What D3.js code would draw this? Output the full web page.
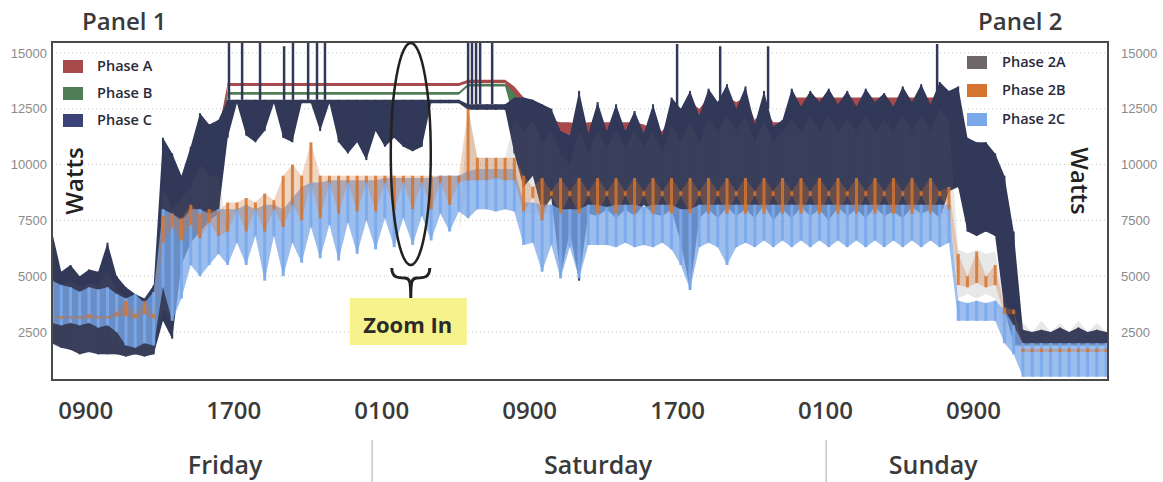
<!DOCTYPE html>
<html>
<head>
<meta charset="utf-8">
<script src="https://cdn.jsdelivr.net/npm/d3@7"></script>
<style>
  body { margin: 0; background: #fff; }
  text { font-family: "Open Sans", sans-serif; }
</style>
</head>
<body>
<div id="chart"></div>
<script>
// readings every half hour, starting 07:12 Friday (hours counted from Friday 00:00)
const hours = d3.range(115).map(i => 7.2 + i * 0.5);

// Panel 1
const phaseAHi = [
  4500,4500,4500,4300,4500,4500,4500,4200,4000,3800,
  3700,4000,9000,9000,9000,10000,11000,11000,11500,13650,
  13650,13650,13650,13650,13650,13650,13650,13650,13650,13650,
  13650,13650,13650,13650,13650,13650,13650,13650,13650,13650,
  13650,13650,13650,13650,13650,13800,13800,13800,13800,13800,
  13500,13000,12800,12500,12000,11900,11900,11800,11900,11900,
  11900,11900,11900,11900,11800,11600,11500,12200,12500,12800,
  12500,13000,12800,13000,12800,13000,12000,12500,11900,11900,
  13000,13000,13000,13000,13000,13000,13000,13000,13000,13000,
  13000,13000,13000,13000,13000,13000,13000,13200,13200,10500,
  10000,10000,9500,8500,2300,2300,2300,2300,2300,2300,
  2300,2300,2300,2300,2300];
const phaseALo = [
  2000,2000,2000,2000,2000,2000,2000,2000,2000,2000,
  2000,2000,5000,5000,6000,7000,7000,7500,8000,13520,
  13520,13520,13520,13520,13520,13520,13520,13520,13520,13520,
  13520,13520,13520,13520,13520,13520,13520,13520,13520,13520,
  13520,13520,13520,13520,13520,13650,13650,13650,13650,13650,
  12000,11000,11000,10000,10000,9000,9000,9000,9000,9000,
  9000,9000,9000,9000,9000,9000,9000,9000,9000,9000,
  9000,9000,9000,9000,9000,9000,9000,9000,9000,9000,
  9000,9000,9000,9000,9000,9000,9000,9000,9000,9000,
  9000,9000,9000,9000,9000,9000,9000,9000,9000,8000,
  8000,8000,7800,7800,1900,1900,1900,1900,1900,1900,
  1900,1900,1900,1900,1900];

const phaseBHi = [
  4200,4200,4200,4000,4200,4200,4200,4000,3800,3600,
  3500,3800,8800,8800,8800,9800,10800,10800,11300,13250,
  13250,13250,13250,13250,13250,13250,13250,13250,13250,13250,
  13250,13250,13250,13250,13250,13250,13250,13250,13250,13250,
  13250,13250,13250,13250,13250,13620,13620,13620,13620,13620,
  13200,12700,12500,12200,11700,11000,11000,11000,11000,11000,
  11000,11000,11000,11000,11000,11000,11000,12000,12000,12000,
  12000,12000,12000,12000,12000,12000,11200,11200,11200,11200,
  12000,12000,12000,12000,12000,12000,12000,12000,12000,12000,
  12000,12000,12000,12000,12000,12000,12000,12000,12000,10000,
  9500,9500,9000,8000,2200,2200,2200,2200,2200,2200,
  2200,2200,2200,2200,2200];
const phaseBLo = [
  2000,2000,2000,2000,2000,2000,2000,2000,2000,2000,
  2000,2000,5000,5000,6000,7000,7000,7500,8000,13130,
  13130,13130,13130,13130,13130,13130,13130,13130,13130,13130,
  13130,13130,13130,13130,13130,13130,13130,13130,13130,13130,
  13130,13130,13130,13130,13130,13500,13500,13500,13500,13500,
  12000,11000,11000,10000,10000,9000,9000,9000,9000,9000,
  9000,9000,9000,9000,9000,9000,9000,9000,9000,9000,
  9000,9000,9000,9000,9000,9000,9000,9000,9000,9000,
  9000,9000,9000,9000,9000,9000,9000,9000,9000,9000,
  9000,9000,9000,9000,9000,9000,9000,9000,9000,7800,
  7800,7800,7800,7800,1900,1900,1900,1900,1900,1900,
  1900,1900,1900,1900,1900];

const phaseCHi = [
  7000,5200,5500,5000,5300,5200,6500,5000,4500,4200,
  4000,4600,11200,10500,9500,10800,12300,11800,12000,12900,
  12900,12900,12900,12900,12900,12900,12900,12900,12900,12900,
  12900,12900,12900,12900,12900,12900,12900,12900,12900,12900,
  12900,12900,12900,12900,12900,12700,12700,12700,12700,12700,
  13000,13000,12900,12700,12500,11500,11300,13300,11400,12800,
  11500,12700,11500,12400,11400,12700,11300,13000,12500,13300,
  12200,13400,12800,13600,12500,13500,11800,13300,11700,12000,
  13400,12600,13300,12800,13400,12700,13300,12600,13400,12800,
  13200,12600,13500,12800,13600,12700,13700,13300,13500,11200,
  11000,11000,10500,9500,7000,2600,2500,2600,2500,2700,
  2500,2700,2500,2600,2500];
const phaseCLo = [
  2000,1800,1700,1500,1600,1500,1500,1500,1400,1500,
  1400,1500,3000,2200,5500,6500,7000,7500,7800,11200,
  12750,11300,11000,11500,12750,11200,11000,12750,12750,11500,
  12750,11000,10500,11000,10200,11500,10800,11200,10800,10600,
  10800,12750,12750,12750,12750,12450,12450,12450,12450,12450,
  10500,9000,9500,7900,8500,5000,7000,4800,7800,7700,
  8000,7600,8000,7700,8200,7800,7700,8000,6500,4400,
  7600,8000,7600,8100,7700,8000,7600,8200,7500,8000,
  7600,8100,7700,8000,7500,8100,7700,8000,7600,8100,
  7700,7900,7600,8100,7800,8000,7600,8800,9000,7000,
  6800,7000,6800,3500,2000,1900,2000,1900,2000,1900,
  2000,1900,2000,1900,2000];

// Phase C short spikes that hit the top of the frame
const spikeHours = [16.77, 17.48, 18.45, 19.75, 20.23, 21.05, 21.53, 21.96, 29.7, 29.91, 30.13, 30.35, 31.0, 41.0, 43.33, 45.92, 55.06];
const spikeTops  = [15450, 15450, 15450, 15300, 15450, 15450, 15450, 15450, 15450, 15450, 15450, 15450, 15450, 15400, 15300, 15300, 15400];
const spikeLows  = [12900, 12900, 12900, 12900, 12900, 12900, 12900, 12900, 12700, 12700, 12700, 12700, 12700, 12500, 12500, 12500, 12800];

// Panel 2
const phase2AHi = [
  4800,4600,4800,4500,4700,4600,5200,4400,4000,3800,
  3600,4000,9000,8000,8500,9000,10000,9500,9500,7000,
  7000,7000,7000,7000,7000,7000,7000,7000,7000,7000,
  7000,7000,7000,7000,7000,7000,7000,7000,7000,7000,
  7000,7000,7000,7000,7000,12500,10300,10300,10300,10300,
  12000,11500,12000,11000,11500,10500,10000,11500,10500,11500,
  10800,11500,10800,11500,10800,11500,10500,11800,11000,12000,
  11000,12000,11500,12200,11500,12200,11000,12000,11000,11500,
  12000,11500,12200,11500,12200,11500,12000,11500,12200,11500,
  12000,11500,12200,11500,12200,11500,12500,12000,6200,6000,
  6200,6000,6100,4000,3000,2900,2500,3000,2500,2900,
  2500,3000,2500,2900,2500];
const phase2ALo = [
  1900,1800,1700,1600,1600,1500,1500,1500,1400,1500,
  1400,1500,3500,3000,6000,7000,7200,7500,7800,7000,
  7000,7000,7000,7000,7000,7000,7000,7000,7000,7000,
  7000,7000,7000,7000,7000,7000,7000,7000,7000,7000,
  7000,7000,7000,7000,7000,9300,9300,9300,9300,9300,
  9300,7800,7800,7800,7800,7800,7800,7800,7800,7800,
  7800,7800,7800,7800,7800,7800,7800,7800,7800,7800,
  7800,7800,7800,7800,7800,7800,7800,7800,7800,7800,
  7800,7800,7800,7800,7800,7800,7800,7800,7800,7800,
  7800,7800,7800,7800,7800,7800,7800,7800,4000,4200,
  4000,4200,4000,2200,1900,1900,1900,1900,1900,1900,
  1900,1900,1900,1900,1900];

const phase2BHi = [
  3200,3200,3200,3200,3300,3200,3200,3400,3900,3300,
  3900,3300,7700,7800,7600,8200,7800,8000,7900,8300,
  8300,8500,8300,8700,8400,9500,10000,9500,11000,9500,
  9500,9500,9500,9500,9500,9500,9500,9500,9500,9500,
  9500,9500,9500,9500,9500,12500,10300,10300,10300,10300,
  10300,9500,9000,9400,8800,9400,8800,9400,8800,9400,
  8800,9400,8800,9400,8800,9400,8800,9400,8800,9400,
  8800,9400,8800,9400,8800,9400,8800,9400,8800,9400,
  8800,9400,8800,9400,8800,9400,8800,9400,8800,9400,
  8800,9400,8800,9400,8800,9400,8800,9000,6000,5000,
  6100,5000,5500,3600,3500,1750,1750,1750,1750,1750,
  1750,1750,1750,1750,1750];
const phase2BLo = [
  3100,3100,3100,3100,3100,3100,3100,3200,3200,3100,
  3300,3100,6500,7200,6600,7300,6700,7400,6800,7000,
  8000,7000,8000,7000,8000,7200,8200,7500,9200,7600,
  9200,7800,9200,7900,9200,7900,9200,8000,9200,8000,
  9200,8000,9200,8200,9200,9300,9300,9300,9400,9300,
  9300,7900,8500,7500,8600,7800,8600,7800,8600,7800,
  8600,7800,8600,7800,8600,7800,8600,7800,8600,7800,
  8600,7800,8600,7800,8600,7800,8600,7800,8600,7800,
  8600,7800,8600,7800,8600,7800,8600,7800,8600,7800,
  8600,7800,8600,7800,8600,7800,8600,8000,4600,4500,
  4700,4500,4600,3300,3300,1600,1600,1600,1600,1600,
  1600,1600,1600,1600,1600];

const phase2CHi = [
  4800,4600,4500,4300,4500,4400,4500,4200,4000,4200,
  3800,4300,8000,7800,7500,8000,8000,7800,8000,8000,
  8000,8200,8000,8200,8200,8000,8500,9000,9200,9200,
  9300,9300,9300,9300,9300,9300,9400,9400,9400,9400,
  9400,9400,9500,9500,9500,9700,9800,9800,9800,9800,
  9800,8300,8300,8200,8200,8000,8000,8000,8200,8200,
  8100,8200,8200,8200,8100,8200,8200,8200,8000,8000,
  8200,8200,8200,8200,8200,8200,8200,8200,8200,8200,
  8200,8200,8200,8200,8200,8200,8200,8200,8200,8200,
  8200,8200,8200,8200,8200,8200,8200,8200,3900,3800,
  3900,3800,3900,3500,2800,2000,2000,2000,2000,2000,
  2000,2000,2000,2000,2000];
const phase2CLo = [
  2900,2800,2900,2800,2900,2700,2800,2500,1900,1800,
  2000,1900,4500,3000,4000,5500,5000,5500,6000,5500,
  6500,5500,6800,4800,6800,5000,6500,5600,7200,5800,
  7300,5700,7400,6000,7500,6200,7600,6300,7600,6400,
  7700,6600,7800,7000,7900,7600,8000,8000,7900,8000,
  7900,6400,6500,5200,6400,4900,6300,4900,6400,6400,
  6400,6300,6500,6300,6400,6300,6500,6200,5500,4400,
  6300,6500,6300,5500,6300,6500,6300,6600,6300,6600,
  6300,6600,6300,6600,6300,6600,6300,6600,6300,6600,
  6300,6600,6300,6600,6300,6600,6300,6500,3000,3000,
  3000,3000,3000,2000,1500,500,500,500,500,500,
  500,500,500,500,500];

const panel1Names = ["Phase A", "Phase B", "Phase C"];
const panel2Names = ["Phase 2A", "Phase 2B", "Phase 2C"];
const yTicks = [2500, 5000, 7500, 10000, 12500, 15000];
const xTickHours = [9, 17, 25, 33, 41, 49, 57];
const xTickLabels = ["0900", "1700", "0100", "0900", "1700", "0100", "0900"];
const dayNames = ["Friday", "Saturday", "Sunday"];
const dayCenters = [16.56, 36.73, 54.85];
const daySplits = [24.51, 49.06];

const width = 1163;
const height = 482;
const plotL = 52, plotR = 1108, plotT = 42, plotB = 380;

const svg = d3.select("#chart").append("svg")
    .attr("width", width)
    .attr("height", height);

const x = d3.scaleLinear().domain([7.2, 64.3]).range([plotL, plotR]);
const y = d3.scaleLinear().domain([350, 15490]).range([plotB, plotT]);

svg.append("clipPath").attr("id", "plotclip")
  .append("rect")
    .attr("x", plotL).attr("y", plotT)
    .attr("width", plotR - plotL).attr("height", plotB - plotT);

// faint dotted grid
svg.append("g").selectAll("line").data(yTicks).enter().append("line")
    .attr("x1", plotL).attr("x2", plotR)
    .attr("y1", d => y(d)).attr("y2", d => y(d))
    .attr("stroke", "#c8c8c8")
    .attr("stroke-dasharray", "1,3");

const plot = svg.append("g").attr("clip-path", "url(#plotclip)");

const area = d3.area()
    .x(d => x(d.h))
    .y0(d => y(d.lo))
    .y1(d => y(d.hi));

// band between lo and hi, plus thin sticks at each reading for the streaky look
function drawSeries(hi, lo, color, opacity, stickW, stickOp) {
  const rows = hours.map((h, i) => ({ h: h, hi: hi[i], lo: lo[i] }));
  plot.append("path").datum(rows)
    .attr("d", area)
    .attr("fill", color)
    .attr("fill-opacity", opacity);
  if (stickW) {
    plot.append("g").selectAll("line").data(rows).enter().append("line")
      .attr("x1", d => x(d.h)).attr("x2", d => x(d.h))
      .attr("y1", d => y(d.lo)).attr("y2", d => y(d.hi))
      .attr("stroke", color)
      .attr("stroke-opacity", stickOp)
      .attr("stroke-width", stickW);
  }
}

const colA = "#a84a4c", colB = "#4f7d55", colC = "#313858";
const col2A = "#6d6769", col2B = "#d4742f", col2C = "#7aa8ea";

drawSeries(phaseAHi, phaseALo, colA, 1);
drawSeries(phaseBHi, phaseBLo, colB, 1);
drawSeries(phaseCHi, phaseCLo, colC, 1, 2, 1);
drawSeries(phase2AHi, phase2ALo, col2A, 0.15);
drawSeries(phase2CHi, phase2CLo, col2C, 0.75, 3, 0.9);
drawSeries(phase2BHi, phase2BLo, col2B, 0.3, 3, 0.85);

plot.append("g").selectAll("line").data(spikeHours).enter().append("line")
    .attr("x1", d => x(d)).attr("x2", d => x(d))
    .attr("y1", (d, i) => y(spikeLows[i]))
    .attr("y2", (d, i) => y(spikeTops[i]))
    .attr("stroke", colC)
    .attr("stroke-width", 2.5);

// frame
svg.append("rect")
    .attr("x", plotL).attr("y", plotT)
    .attr("width", plotR - plotL).attr("height", plotB - plotT)
    .attr("fill", "none")
    .attr("stroke", "#4a4a4a")
    .attr("stroke-width", 2);

// y axes, both sides
const yLeft = svg.append("g")
    .attr("transform", `translate(${plotL},0)`)
    .call(d3.axisLeft(y).tickValues(yTicks).tickSize(0).tickPadding(5).tickFormat(d => d));
const yRight = svg.append("g")
    .attr("transform", `translate(${plotR},0)`)
    .call(d3.axisRight(y).tickValues(yTicks).tickSize(0).tickPadding(13).tickFormat(d => d));
[yLeft, yRight].forEach(g => {
  g.select(".domain").remove();
  g.selectAll("text")
    .style("font-family", "'Liberation Sans', Arial, sans-serif")
    .style("font-size", "13px")
    .attr("fill", "#8a8a8a");
});

// x axis
const xAxis = svg.append("g")
    .attr("transform", `translate(0,${plotB})`)
    .call(d3.axisBottom(x).tickValues(xTickHours).tickSize(0).tickPadding(22)
      .tickFormat((d, i) => xTickLabels[i]));
xAxis.select(".domain").remove();
xAxis.selectAll("text")
    .style("font-family", "'Open Sans', sans-serif")
    .style("font-size", "24px")
    .style("font-weight", 600)
    .attr("fill", "#3a3a3a");

svg.append("g").selectAll("text").data(dayNames).enter().append("text")
    .attr("x", (d, i) => x(dayCenters[i]))
    .attr("y", 474)
    .attr("text-anchor", "middle")
    .style("font-size", "25px")
    .style("font-weight", 600)
    .attr("fill", "#3a3a3a")
    .text(d => d);

svg.append("g").selectAll("line").data(daySplits).enter().append("line")
    .attr("x1", d => x(d)).attr("x2", d => x(d))
    .attr("y1", 440).attr("y2", 482)
    .attr("stroke", "#c8c8c8")
    .attr("stroke-width", 1.5);

// titles
svg.append("text").attr("x", 82).attr("y", 30)
    .style("font-size", "24px").style("font-weight", 600).attr("fill", "#3a3a3a")
    .text("Panel 1");
svg.append("text").attr("x", 978).attr("y", 30)
    .style("font-size", "24px").style("font-weight", 600).attr("fill", "#3a3a3a")
    .text("Panel 2");

svg.append("text")
    .attr("transform", "translate(83,181) rotate(-90)")
    .attr("text-anchor", "middle")
    .style("font-size", "24px").style("font-weight", 600).attr("fill", "#222")
    .text("Watts");
svg.append("text")
    .attr("transform", "translate(1071,181) rotate(90)")
    .attr("text-anchor", "middle")
    .style("font-size", "24px").style("font-weight", 600).attr("fill", "#222")
    .text("Watts");

// legends
function legend(names, colors, sx, tx, rows) {
  const g = svg.append("g");
  g.selectAll("rect").data(names).enter().append("rect")
      .attr("x", sx).attr("y", (d, i) => rows[i] - 6)
      .attr("width", 20).attr("height", 13)
      .attr("fill", (d, i) => colors[i]);
  g.selectAll("text").data(names).enter().append("text")
      .attr("x", tx).attr("y", (d, i) => rows[i] + 5)
      .style("font-size", "14.5px").style("font-weight", 600)
      .attr("fill", "#2a2a3a")
      .text(d => d);
}
legend(panel1Names, [colA, colB, "#3b4275"], 63, 97, [66, 93, 120]);
legend(panel2Names, [col2A, col2B, col2C], 967, 1002, [62, 90, 119]);

// zoom-in annotation
const zx = x(26.6);
svg.append("ellipse")
    .attr("cx", zx).attr("cy", (y(15450) + y(5500)) / 2)
    .attr("rx", 20).attr("ry", (y(5500) - y(15450)) / 2)
    .attr("fill", "none").attr("stroke", "#222").attr("stroke-width", 2.5);

const by = y(5500) + 3;
svg.append("path")
    .attr("d", `M${zx - 19},${by} C${zx - 19},${by + 10} ${zx - 12},${by + 10} ${zx - 6},${by + 10}`
      + ` C${zx - 1},${by + 10} ${zx},${by + 13} ${zx},${by + 30}`
      + ` M${zx + 19},${by} C${zx + 19},${by + 10} ${zx + 12},${by + 10} ${zx + 6},${by + 10}`
      + ` C${zx + 1},${by + 10} ${zx},${by + 13} ${zx},${by + 30}`)
    .attr("fill", "none").attr("stroke", "#222").attr("stroke-width", 3);

svg.append("rect")
    .attr("x", zx - 61).attr("y", 298)
    .attr("width", 117).attr("height", 47)
    .attr("fill", "#f6f28c");
svg.append("text")
    .attr("x", zx - 3).attr("y", 333)
    .attr("text-anchor", "middle")
    .style("font-size", "22px").style("font-weight", 700)
    .attr("fill", "#2a2a2a")
    .text("Zoom In");
</script>
</body>
</html>
